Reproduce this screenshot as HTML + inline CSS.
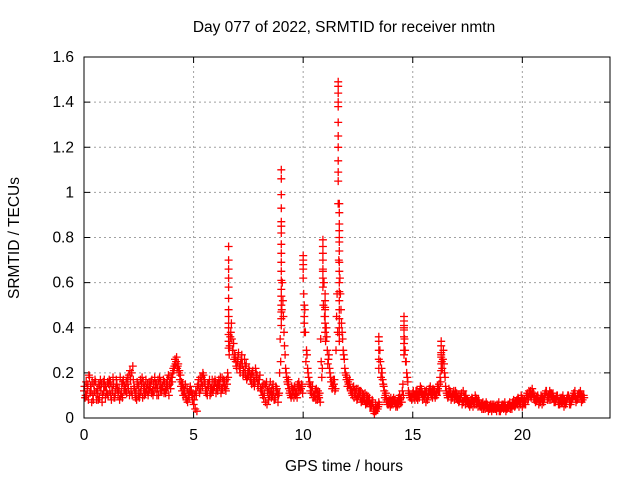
<!DOCTYPE html>
<html><head><meta charset="utf-8"><style>
body{margin:0;background:#fff}
svg{display:block;font-family:"Liberation Sans",sans-serif}
</style></head><body>
<svg id="chart" width="640" height="480">
<text x="344" y="32" font-size="15.5" text-anchor="middle">Day 077 of 2022, SRMTID for receiver nmtn</text>
<text x="344" y="471" font-size="15.5" text-anchor="middle">GPS time / hours</text>
<text x="19" y="238" font-size="15.5" text-anchor="middle" transform="rotate(-90 19 238)">SRMTID / TECUs</text>
<g id="grid"></g><g id="ticks"></g><g id="marks"></g>
<rect x="84" y="57" width="526" height="361" fill="none" stroke="#000" stroke-width="1"/>
</svg>
<script>
const xTicks=[0,5,10,15,20];
const yTicks=[0,0.2,0.4,0.6,0.8,1,1.2,1.4,1.6];
const yTickLabels=["0","0.2","0.4","0.6","0.8","1","1.2","1.4","1.6"];
const s1=[.12,.16,.08,.14,.10,.17,.13,.09,.15,.12,
.14,.10,.16,.12,.09,.15,.13,.11,.17,.12,
.15,.21,.10,.13,.08,.14,.12,.16,.11,.15,
.13,.17,.12,.15,.10,.16,.14,.12,.17,.15,
.18,.21,.25,.24,.19,.15,.11,.13,.09,.12,
.06,.12,.15,.18,.14,.17,.12,.15,.11,.13,
.16,.12,.15,.18,.14,.17,.45,.38,.30,.27,
.25,.22,.28,.20,.24,.19,.17,.21,.16,.19,
.17,.12,.09,.14,.11,.16,.10,.08,.13,.11,
.85,.45,.22,.15,.12,.10,.14,.11,.16,.13,
.62,.38,.22,.16,.12,.09,.13,.10,.35,.65,
.48,.30,.22,.16,.15,.30,.95,.55,.35,.22,
.18,.15,.12,.14,.10,.13,.09,.11,.08,.10,
.07,.05,.03,.06,.04,.30,.20,.12,.08,.06,
.09,.06,.08,.05,.10,.07,.40,.25,.12,.09,
.11,.08,.12,.09,.13,.10,.07,.11,.14,.09,
.12,.10,.15,.28,.30,.14,.09,.12,.10,.08,
.11,.07,.09,.12,.06,.08,.05,.09,.07,.06,
.08,.05,.07,.04,.06,.05,.03,.06,.04,.05,
.03,.05,.07,.04,.06,.05,.08,.06,.09,.07,
.05,.08,.10,.12,.09,.11,.07,.10,.08,.06,
.09,.12,.10,.08,.11,.07,.10,.06,.09,.05,
.07,.10,.06,.09,.12,.08,.11,.07,.10];
const s2=[.09,.13,.18,.07,.15,.11,.08,.17,.10,.14,
.11,.17,.08,.15,.13,.10,.18,.09,.14,.11,
.19,.12,.17,.09,.15,.11,.18,.10,.13,.12,
.16,.10,.15,.13,.18,.12,.11,.15,.19,.13,
.20,.26,.22,.21,.16,.13,.09,.11,.14,.08,
.10,.03,.13,.16,.19,.12,.15,.10,.17,.14,
.13,.17,.11,.16,.13,.20,.32,.35,.26,.23,
.29,.24,.19,.23,.18,.21,.15,.18,.20,.14,
.13,.10,.15,.06,.13,.09,.12,.14,.07,.35,
.60,.32,.18,.13,.09,.12,.10,.15,.12,.14,
.42,.30,.18,.14,.09,.12,.08,.11,.18,.60,
.40,.26,.18,.14,.12,.55,.80,.42,.28,.19,
.16,.13,.10,.12,.08,.11,.07,.10,.06,.09,
.05,.08,.02,.04,.07,.18,.15,.10,.06,.07,
.07,.08,.06,.09,.07,.15,.30,.18,.10,.08,
.09,.12,.10,.14,.08,.12,.09,.13,.10,.12,
.10,.13,.18,.22,.20,.11,.13,.08,.11,.12,
.08,.10,.06,.09,.08,.06,.08,.05,.10,.07,
.06,.04,.05,.07,.03,.06,.05,.04,.06,.03,
.05,.04,.03,.06,.04,.07,.05,.08,.05,.10,
.07,.06,.08,.10,.13,.08,.09,.06,.10,.08,
.11,.08,.12,.10,.07,.09,.06,.08,.10,.07,
.09,.06,.08,.11,.07,.09,.12,.08];
const s3=[.14,.10,.19,.12,.08,.16,.11,.14,.07,.17,
.12,.15,.10,.18,.11,.13,.08,.15,.12,.16,
.13,.17,.23,.11,.16,.09,.15,.13,.17,.10,
.14,.12,.18,.10,.15,.13,.17,.11,.14,.18,
.16,.23,.27,.20,.14,.10,.15,.07,.12,.10,
.08,.10,.17,.13,.20,.15,.10,.17,.13,.16,
.11,.15,.18,.13,.16,.15,.28,.42,.33,.25,
.27,.20,.24,.26,.17,.22,.19,.16,.22,.15,
.19,.14,.11,.16,.08,.12,.15,.09,.11,.20,
.48,.38,.20,.17,.10,.13,.11,.09,.14,.15,
.55,.25,.20,.12,.14,.10,.11,.09,.25,.50,
.34,.24,.20,.13,.17,.45,.70,.48,.30,.20,
.14,.17,.11,.09,.13,.10,.12,.08,.11,.07,
.09,.06,.04,.03,.05,.25,.17,.09,.07,.08,
.06,.09,.05,.07,.08,.12,.35,.20,.11,.10,
.12,.10,.08,.12,.11,.09,.12,.10,.11,.13,
.09,.14,.12,.25,.24,.12,.10,.11,.09,.10,
.09,.08,.11,.07,.10,.07,.06,.08,.06,.08,
.07,.06,.04,.06,.05,.04,.06,.05,.03,.07,
.04,.06,.05,.05,.07,.04,.06,.07,.08,.06,
.08,.07,.11,.11,.10,.09,.08,.09,.07,.09,
.10,.10,.08,.11,.09,.08,.08,.09,.07,.08,
.08,.09,.07,.10,.09,.10,.09,.10,.09];
const s4=[.10,.15,.11,.16,.12,.08,.15,.12,.16,.09,
.16,.12,.14,.09,.17,.12,.10,.16,.13,.18,
.10,.20,.14,.12,.10,.17,.09,.14,.12,.16,
.11,.15,.13,.17,.12,.14,.16,.13,.10,.16,
.22,.24,.23,.17,.12,.12,.08,.10,.12,.11,
.04,.14,.11,.18,.16,.11,.14,.13,.12,.17,
.15,.14,.13,.17,.12,.18,.36,.30,.28,.22,
.23,.26,.21,.19,.20,.18,.20,.14,.18,.17,
.12,.15,.07,.12,.10,.13,.08,.12,.10,.25,
.52,.28,.16,.11,.14,.09,.13,.12,.13,.11,
.48,.28,.15,.11,.10,.08,.12,.07,.22,.45,
.36,.28,.16,.17,.13,.38,.62,.38,.26,.17,
.15,.12,.13,.11,.09,.12,.08,.09,.07,.08,
.06,.07,.03,.05,.06,.22,.14,.11,.07,.05,
.08,.07,.07,.06,.09,.10,.25,.16,.09,.09,
.10,.09,.11,.11,.10,.11,.08,.12,.12,.10,
.11,.12,.16,.26,.18,.10,.11,.09,.12,.09,
.10,.09,.07,.10,.07,.07,.06,.07,.09,.05,
.05,.06,.06,.05,.04,.05,.04,.05,.05,.04,
.06,.05,.04,.05,.05,.06,.07,.06,.07,.09,
.06,.09,.09,.12,.11,.10,.08,.07,.09,.07,
.12,.09,.11,.09,.08,.10,.07,.07,.08,.06,
.10,.08,.09,.10,.08,.11,.10,.09];
const spikeTimes=[6.6,9.0,10.0,10.05,10.9,11.0,11.6,11.65,13.45,14.6,16.3];
const spikeVals=[
[.76,.70,.66,.62,.58,.53,.48,.45,.42,.40,.37,.34,.31],
[1.10,1.06,.99,.93,.87,.82,.77,.73,.69,.65,.61,.57,.54,.50,.47,.44,.41],
[.72,.70,.68,.66,.62],
[.50,.45,.42,.38],
[.79,.76,.73,.70,.66,.62,.58],
[.55,.52,.49,.45,.42,.38],
[1.49,1.47,1.44,1.40,1.38,1.31,1.25,1.20,1.14,1.09,1.05],
[.95,.91,.86,.83,.78,.74,.69,.65,.60,.56,.52,.48,.44,.40,.37,.34],
[.36,.34,.30,.26,.22],
[.45,.43,.41,.39,.36,.33,.30,.28],
[.34,.32,.29,.27,.24,.21]];
const NS="http://www.w3.org/2000/svg";
const X0=84,X1=610,Y0=418,Y1=57,XMAX=24,YMAX=1.6;
const xs=t=>X0+t/XMAX*(X1-X0);
const ys=v=>Y0-v/YMAX*(Y0-Y1);
function mk(tag,attrs,parent){const e=document.createElementNS(NS,tag);for(const k in attrs)e.setAttribute(k,attrs[k]);parent.appendChild(e);return e;}
const grid=document.getElementById('grid'),ticks=document.getElementById('ticks'),marks=document.getElementById('marks');
xTicks.forEach(t=>{const x=xs(t);
 if(t>0){const g=mk('line',{x1:x,x2:x,y1:Y0,y2:Y1,stroke:'#a0a0a0','stroke-dasharray':'2,3'},grid);
 
 }
 mk('line',{x1:x,x2:x,y1:Y0,y2:Y0-6,stroke:'#000'},ticks);
 mk('line',{x1:x,x2:x,y1:Y1,y2:Y1+6,stroke:'#000'},ticks);
 const l=mk('text',{x:x,y:Y0+22,'font-size':15.5,'text-anchor':'middle'},ticks);l.textContent=t;
 
 });
yTicks.forEach((v,i)=>{const y=ys(v);
 if(i>0&&i<yTicks.length-1){const g=mk('line',{x1:X0,x2:X1,y1:y,y2:y,stroke:'#a0a0a0','stroke-dasharray':'2,3'},grid);
 
 }
 mk('line',{x1:X0,x2:X0+6,y1:y,y2:y,stroke:'#000'},ticks);
 mk('line',{x1:X1,x2:X1-6,y1:y,y2:y,stroke:'#000'},ticks);
 const l=mk('text',{x:X0-10,y:y+5,'font-size':15.5,'text-anchor':'end'},ticks);l.textContent=yTickLabels[i];
 
 });
let d='';
function plus(t,v){const x=xs(t),y=ys(v);d+=`M${(x-4).toFixed(1)} ${y.toFixed(1)}h8M${x.toFixed(1)} ${(y-4).toFixed(1)}v8`;}
s1.forEach((v,i)=>plus(i*0.1,v));
s2.forEach((v,i)=>plus(i*0.1+0.05,v));
s3.forEach((v,i)=>plus(i*0.1+0.025,v));
s4.forEach((v,i)=>plus(i*0.1+0.075,v));
spikeTimes.forEach((t,i)=>spikeVals[i].forEach(v=>plus(t,v)));
const p=mk('path',{d:d,stroke:'#ff0000','stroke-width':1.3,fill:'none'},marks);


</script>
</body></html>
